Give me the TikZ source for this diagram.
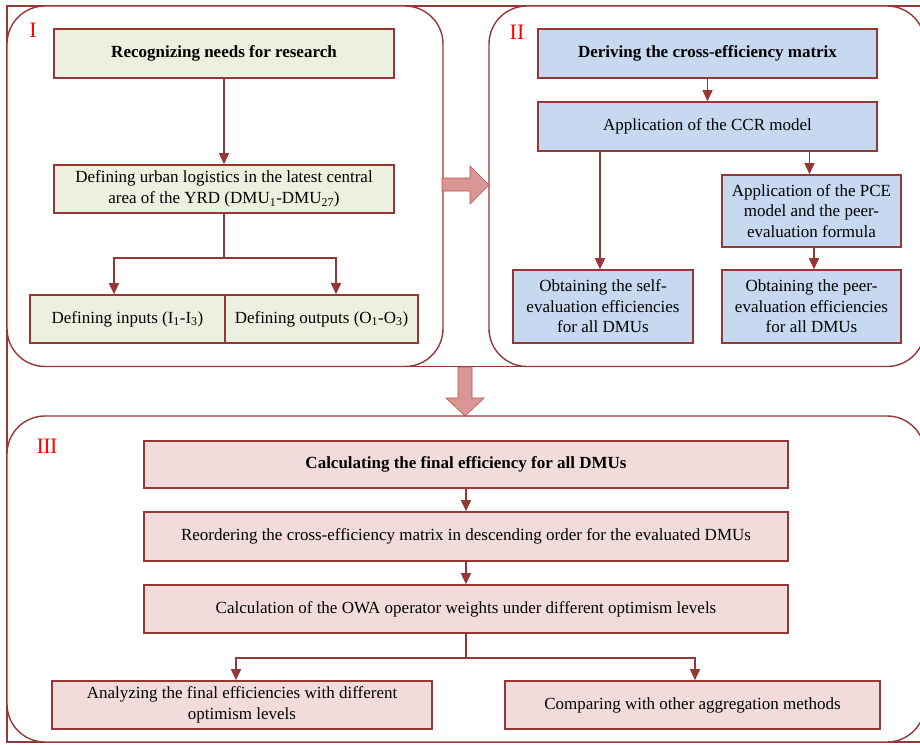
\documentclass[tikz,border=0pt]{standalone}
\usepackage{fontspec}
\setmainfont{Liberation Serif}
\usetikzlibrary{arrows.meta}
\definecolor{brd}{HTML}{953735}
\definecolor{gfill}{HTML}{EBF1DE}
\definecolor{bfill}{HTML}{C6D9F1}
\definecolor{pfill}{HTML}{F2DCDB}
\definecolor{bigfill}{HTML}{D99694}
\definecolor{bigbrd}{HTML}{C0504D}
\newcommand{\fs}{\fontsize{17}{20.5}\selectfont}
\tikzset{
  box/.style={draw=brd, line width=1.6pt, inner sep=2pt, align=center, font=\fs},
  gbox/.style={box, fill=gfill},
  bbox/.style={box, fill=bfill},
  pbox/.style={box, fill=pfill},
  ln/.style={draw=brd, line width=1.5pt},
  arr/.style={ln, -{Triangle[length=11pt,width=10pt]}},
  panel/.style={draw=brd, line width=1.4pt, rounded corners=38pt},
  frame/.style={draw=brd, line width=1.4pt},
  plabel/.style={text=red, font=\fontsize{22}{24}\selectfont, inner sep=0pt},
  bigarrow/.style={fill=bigfill, draw=bigbrd, line width=0.6pt},
}
\begin{document}
\begin{tikzpicture}[x=1pt,y=-1pt]
\useasboundingbox (0,0) rectangle (920,744);
\clip (0,0) rectangle (920,744);
% outer frame
\draw[frame] (7,6) rectangle (926,742);
% panels
\draw[panel, fill=white] (7,6) rectangle (443,366.5);
\draw[panel, fill=white] (489,6) rectangle (925,366.5);
\draw[panel, fill=white] (7,416) rectangle (925,742);
\draw[frame] (400,366.5) -- (530,366.5);
% panel labels
\node[plabel] (l1) at (33,30) {I};
\node[plabel] (l2) at (517,32) {II};
\node[plabel] (l3) at (47,446) {I\kern-0.5ptI\kern-0.5ptI};
% big arrows
\draw[bigarrow] (442,178) -- (470,178) -- (470,166) -- (489,185) -- (470,204) -- (470,191) -- (442,191) -- cycle;
\draw[bigarrow] (458,367) -- (472,367) -- (472,398) -- (484,398) -- (465,416) -- (446,398) -- (458,398) -- cycle;
% panel I
\node[gbox, minimum width=340, minimum height=49] (b1) at (224,53.5) {\textbf{Recognizing needs for research}};
\node[gbox, minimum width=340, minimum height=48] (b2) at (224,189) {Defining urban logistics in the latest central\\area of the YRD (DMU\textsubscript{1}-DMU\textsubscript{27})};
\node[gbox, minimum width=195, minimum height=48] (b3) at (127.5,319) {Defining inputs (I\textsubscript{1}-I\textsubscript{3})};
\node[gbox, minimum width=193, minimum height=48] (b4) at (321.5,319) {Defining outputs (O\textsubscript{1}-O\textsubscript{3})};
\draw[arr] (b1) -- (b2);
\draw[ln] (b2.south) -- ++(0,44) coordinate (j1);
\draw[arr] (j1) -| ([xshift=-13.5]b3.north);
\draw[arr] (j1) -| ([xshift=14.5]b4.north);
% panel II
\node[bbox, minimum width=339, minimum height=49] (b5) at (707.5,53.5) {\textbf{Deriving the cross-efficiency matrix}};
\node[bbox, minimum width=339, minimum height=49] (b6) at (707.5,126.5) {Application of the CCR model};
\node[bbox, minimum width=180, minimum height=73] (b7) at (603,306.5) {Obtaining the self-\\evaluation efficiencies\\for all DMUs};
\node[bbox, minimum width=179, minimum height=72] (b8) at (811.5,211) {Application of the PCE\\model and the peer-\\evaluation formula};
\node[bbox, minimum width=179, minimum height=73] (b9) at (811.5,306.5) {Obtaining the peer-\\evaluation efficiencies\\for all DMUs};
\draw[arr] (b5) -- (b6);
\draw[arr] ([xshift=-3]b7.north |- b6.south) -- ([xshift=-3]b7.north);
\draw[arr] ([xshift=-2]b8.north |- b6.south) -- ([xshift=-2]b8.north);
\draw[arr] ([xshift=2.5]b8.south) -- ([xshift=2.5]b9.north);
% panel III
\node[pbox, minimum width=644, minimum height=47] (b10) at (466,464.5) {\textbf{Calculating the final efficiency for all DMUs}};
\node[pbox, minimum width=644, minimum height=49] (b11) at (466,536.5) {Reordering the cross-efficiency matrix in descending order for the evaluated DMUs};
\node[pbox, minimum width=644, minimum height=48] (b12) at (466,609) {Calculation of the OWA operator weights under different optimism levels};
\node[pbox, minimum width=380, minimum height=48] (b13) at (242,705) {Analyzing the final efficiencies with different\\optimism levels};
\node[pbox, minimum width=375, minimum height=48] (b14) at (692.5,705) {Comparing with other aggregation methods};
\draw[arr] (b10) -- (b11);
\draw[arr] (b11) -- (b12);
\draw[ln] (b12.south) -- ++(0,24) coordinate (j2);
\draw[arr] (j2) -| ([xshift=-6]b13.north);
\draw[arr] (j2) -| ([xshift=2.5]b14.north);
\end{tikzpicture}
\end{document}
